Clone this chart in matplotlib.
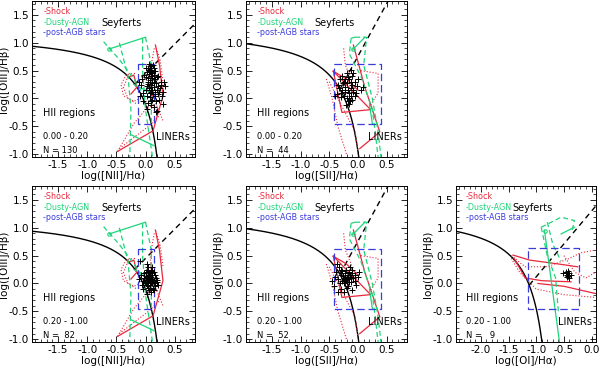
import numpy as np
import matplotlib
matplotlib.use('Agg')
import matplotlib.pyplot as plt
from matplotlib.ticker import MultipleLocator, FormatStrFormatter

plt.rcParams['axes.unicode_minus'] = False

# цвета моделей
RED = '#e8283c'
GREEN = '#1ed47a'
BLUE = '#3c3cdc'

# подписи панелей
bins = ['0.00 - 0.20', '0.20 - 1.00']
counts_nii = [130, 82]
counts_sii = [44, 52]
count_oi = 9

# точки (log отношений линий) для каждой панели
nii_low = [(0.05, 0.55), (0.08, 0.58), (0.10, 0.52), (0.03, 0.48), (0.12, 0.47), (0.06, 0.44),
           (0.09, 0.40), (0.14, 0.42), (0.01, 0.38), (0.11, 0.36), (0.07, 0.33), (0.16, 0.35),
           (0.04, 0.30), (0.12, 0.28), (0.09, 0.25), (0.18, 0.27), (0.02, 0.22), (0.14, 0.20),
           (0.06, 0.18), (0.20, 0.15), (0.10, 0.12), (0.25, 0.18), (0.30, 0.12), (0.34, 0.22),
           (0.28, 0.05), (0.22, 0.08), (0.16, 0.05), (0.08, 0.03), (0.12, -0.02), (0.18, -0.05),
           (0.05, -0.08), (0.10, -0.12), (0.15, -0.15), (0.20, -0.22), (0.02, -0.18), (-0.05, 0.10),
           (-0.08, 0.25), (-0.10, 0.05), (-0.02, 0.42), (0.00, 0.55), (0.13, 0.60), (0.17, 0.50),
           (0.22, 0.40), (0.26, 0.30), (0.21, 0.22), (0.07, 0.10), (0.13, 0.08), (-0.04, -0.05),
           (0.24, -0.02), (0.30, -0.10), (0.11, 0.45), (0.08, 0.50), (0.04, 0.36), (0.15, 0.30),
           (0.10, 0.20), (0.05, 0.26), (0.19, 0.38), (0.12, 0.15), (0.00, 0.15), (0.27, 0.25),
           (-0.12, 0.30), (0.06, 0.62), (0.16, 0.12), (0.09, -0.05), (0.23, 0.12), (0.03, 0.05),
           (0.14, 0.55), (-0.06, 0.35), (0.32, 0.30), (0.18, -0.25)]
sii_low = [(-0.40, 0.05), (-0.35, 0.25), (-0.32, 0.35), (-0.28, 0.40), (-0.25, 0.30), (-0.22, 0.20),
           (-0.20, 0.45), (-0.18, 0.15), (-0.15, 0.35), (-0.12, 0.52), (-0.10, 0.25), (-0.08, 0.45),
           (-0.05, 0.30), (-0.03, 0.10), (0.00, 0.35), (0.05, 0.15), (0.08, 0.20), (-0.30, 0.10),
           (-0.27, 0.15), (-0.24, 0.05), (-0.20, 0.00), (-0.18, -0.05), (-0.15, -0.10), (-0.12, 0.05),
           (-0.10, -0.02), (-0.22, 0.12), (-0.16, 0.10), (-0.13, 0.18), (-0.08, 0.12), (-0.26, 0.28),
           (-0.33, 0.18), (-0.19, 0.28), (-0.06, 0.05), (-0.14, -0.05), (-0.21, -0.12), (-0.11, 0.40),
           (-0.29, 0.02), (-0.17, 0.38), (-0.02, 0.22), (-0.36, 0.08), (-0.23, 0.35), (-0.09, 0.16),
           (-0.16, 0.00), (-0.13, 0.30)]
nii_high = [(-0.10, 0.40), (0.05, 0.30), (0.10, 0.25), (0.00, 0.20), (0.08, 0.18), (0.12, 0.15),
            (0.03, 0.12), (0.06, 0.10), (0.09, 0.08), (0.01, 0.06), (0.04, 0.04), (0.07, 0.02),
            (0.11, 0.00), (0.02, -0.02), (0.05, -0.05), (0.08, -0.08), (0.13, -0.10), (-0.02, 0.10),
            (-0.05, 0.05), (0.15, 0.05), (0.18, 0.10), (0.20, 0.02), (0.14, 0.20), (0.16, -0.05),
            (0.10, -0.15), (0.03, -0.18), (-0.04, -0.10), (0.00, 0.00), (0.06, 0.15), (0.09, 0.22),
            (0.12, 0.30), (-0.08, 0.15), (0.02, 0.25), (0.07, 0.06), (0.10, 0.12), (0.04, 0.08),
            (0.13, 0.04), (0.05, 0.00), (0.08, -0.02), (0.01, 0.14), (-0.01, 0.03), (0.11, 0.18),
            (0.06, -0.12), (0.17, 0.15), (0.22, -0.03), (0.03, 0.35), (-0.06, -0.02), (0.09, 0.03),
            (0.07, 0.11), (0.12, 0.08), (0.15, -0.12), (0.02, 0.07), (-0.03, 0.18), (0.10, 0.05),
            (0.05, 0.20), (0.08, 0.13), (0.14, 0.00), (0.04, -0.08), (0.19, 0.06), (-0.12, 0.08)]
sii_high = [(-0.45, 0.05), (-0.42, -0.05), (-0.40, 0.12), (-0.38, 0.20), (-0.35, 0.08), (-0.33, 0.30),
            (-0.30, 0.15), (-0.28, 0.05), (-0.27, 0.22), (-0.25, 0.10), (-0.24, 0.00), (-0.23, 0.18),
            (-0.22, 0.08), (-0.21, 0.25), (-0.20, 0.12), (-0.19, 0.03), (-0.18, 0.15), (-0.17, -0.05),
            (-0.16, 0.20), (-0.15, 0.08), (-0.14, 0.30), (-0.13, 0.12), (-0.12, 0.02), (-0.11, 0.18),
            (-0.10, 0.25), (-0.08, 0.10), (-0.06, 0.15), (-0.05, 0.05), (-0.03, -0.02), (0.00, 0.12),
            (0.02, 0.20), (-0.30, -0.10), (-0.25, -0.15), (-0.20, -0.08), (-0.32, 0.00), (-0.26, 0.14),
            (-0.22, 0.04), (-0.18, 0.09), (-0.14, 0.16), (-0.29, 0.25), (-0.36, 0.35), (-0.10, -0.12),
            (-0.35, -0.15), (-0.24, 0.06), (-0.16, 0.02)]
oi_high = [(-0.52, 0.18), (-0.47, 0.20), (-0.45, 0.15), (-0.43, 0.22), (-0.42, 0.14),
           (-0.40, 0.18), (-0.44, 0.12), (-0.38, 0.16), (-0.41, 0.10)]

# сетки моделей: ударные волны (красные), пыльные AGN (зелёные)
nii_shock_solid = [[(-0.48, -0.95), (0.13, -0.58), (0.30, 0.05), (0.24, 0.60), (0.17, 0.96)],
                   [(-0.30, 0.38), (-0.20, 0.42), (-0.15, 0.20), (-0.25, 0.08)]]
nii_shock_dot = [[(-0.18, 0.45), (-0.33, 0.43), (-0.42, 0.25), (-0.38, 0.05), (-0.20, -0.05), (-0.10, 0.00)],
                 [(-0.30, 0.40), (-0.38, 0.20), (-0.30, 0.00), (-0.15, -0.10)],
                 [(-0.48, -0.95), (-0.20, -0.45), (0.00, -0.20), (0.15, -0.10)],
                 [(-0.45, -0.90), (0.05, -0.50), (0.25, -0.30)],
                 [(0.15, 0.90), (0.08, 0.50), (0.10, 0.10), (0.22, -0.20), (0.30, -0.40)],
                 [(0.17, 0.95), (0.25, 0.70), (0.30, 0.30)]]
nii_agn_solid = [[(-0.62, 0.89), (0.00, 1.10)],
                 [(-0.25, -0.65), (0.15, -0.85)],
                 [(-0.20, 0.25), (0.10, 0.10)]]
nii_agn_dash = [[(-0.72, 1.02), (-0.45, 0.70), (-0.20, 0.35), (-0.05, 0.10)],
                [(-0.45, 1.00), (-0.30, 0.40), (-0.25, -0.20), (-0.27, -1.05)],
                [(-0.05, 1.08), (-0.05, 0.50), (0.00, -0.20), (0.12, -1.05)],
                [(0.00, 1.10), (0.10, 0.60), (0.10, -0.50)]]
sii_shock_solid = [[(-0.08, 0.96), (0.12, 0.20), (0.25, -0.20), (0.38, -0.60), (0.03, -0.90)],
                   [(-0.43, 0.49), (0.22, -0.20), (-0.28, -0.25), (-0.43, 0.49)],
                   [(-0.43, 0.49), (-0.20, 0.35), (0.00, 0.15)]]
sii_shock_dot = [[(-0.55, 0.35), (-0.45, 0.00), (-0.35, -0.50), (-0.20, -1.00)],
                 [(-0.50, 0.30), (-0.30, -0.10), (-0.05, -0.60), (0.00, -0.95)],
                 [(-0.25, 0.90), (-0.22, 0.60), (-0.10, 0.30)],
                 [(0.05, 0.50), (0.35, 0.45), (0.35, 0.10), (0.20, -0.15)]]
sii_agn_solid = [[(-0.09, 0.88), (0.12, 1.10)],
                 [(0.20, -0.10), (0.25, -0.45)]]
sii_agn_dash = [[(-0.12, 1.08), (-0.15, 0.80), (0.05, 0.40), (0.25, -0.20), (0.30, -0.60), (0.35, -1.05)],
                [(-0.05, 1.10), (0.15, 1.10), (0.10, 0.60), (0.25, 0.00), (0.35, -0.60), (0.40, -1.05)],
                [(-0.12, 1.08), (-0.05, 1.10)]]
oi_shock_solid = [[(-1.42, 0.51), (-1.12, 0.42), (-0.60, 0.35), (-0.25, 0.30)],
                  [(-1.40, 0.45), (-1.20, 0.10), (-0.90, 0.05), (-0.37, 0.03)],
                  [(-0.97, 0.00), (-0.50, -0.05), (0.07, -0.18)]]
oi_shock_dot = [[(-1.45, 0.45), (-1.30, 0.20), (-1.00, -0.10), (-0.50, -0.20), (0.07, -0.25)],
                [(-1.45, 0.50), (-1.20, 0.30), (-0.80, 0.30), (-0.40, 0.45), (-0.20, 0.55), (0.07, 0.60)],
                [(-0.50, 0.50), (-0.30, 0.20), (-0.10, 0.10), (0.07, 0.20)]]
oi_agn_solid = [[(-0.85, 0.95), (-0.58, -1.05)],
                [(-0.55, 0.89), (-0.31, 1.01)]]
oi_agn_dash = [[(-0.91, 1.01), (-0.55, 1.19), (-0.31, 1.13), (-0.35, 0.95)],
               [(-0.91, 1.01), (-0.80, 0.50), (-0.65, 0.10), (-0.60, -0.50)],
               [(-0.80, 1.10), (-0.70, 0.70), (-0.55, 0.40)]]

# прямоугольник post-AGB: (x0, x1, y0, y1)
nii_pagb = (-0.13, 0.15, -0.45, 0.62)
sii_pagb = (-0.42, 0.40, -0.45, 0.62)
oi_pagb = (-1.15, -0.22, -0.45, 0.64)

# разделительные линии Kewley: y = a/(x - b) + c, и LINER/Seyfert: y = k*x + m
kew_nii = (0.61, 0.47, 1.19)
kew_sii = (0.72, 0.32, 1.30)
kew_oi = (0.73, -0.59, 1.33)
lin_nii = (1.05, 0.45)
lin_sii = (1.89, 0.76)
lin_oi = (1.18, 1.30)

YLIM = (-1.05, 1.75)


def draw_panel(ax, pts, shock_s, shock_d, agn_s, agn_d, pagb, kew, lin, xlim, xlabel, binlab, n):
    a, b, c = kew
    x = np.linspace(xlim[0], b - 0.02, 800)
    y = a / (x - b) + c
    ax.plot(x[y > -1.3], y[y > -1.3], color='k', lw=1.0)
    # пересечение двух линий
    xs = np.linspace(b - 1.5, b - 0.02, 5000)
    d = lin[0] * xs + lin[1] - (a / (xs - b) + c)
    x0 = xs[np.argmin(np.abs(d))]
    xl = np.array([x0, xlim[1]])
    ax.plot(xl, lin[0] * xl + lin[1], color='k', lw=1.0, ls=(0, (4, 3)))

    for line in shock_d:
        p = np.array(line)
        ax.plot(p[:, 0], p[:, 1], color=RED, lw=0.8, ls=':')
    for line in shock_s:
        p = np.array(line)
        ax.plot(p[:, 0], p[:, 1], color=RED, lw=0.9)
    for line in agn_d:
        p = np.array(line)
        ax.plot(p[:, 0], p[:, 1], color=GREEN, lw=0.9, ls=(0, (4, 2.5)))
    for i, line in enumerate(agn_s):
        p = np.array(line)
        ax.plot(p[:, 0], p[:, 1], color=GREEN, lw=0.9)
        if i == 0:
            ax.plot(p[0, 0], p[0, 1], 'o', ms=2.5, mfc='none', mec=GREEN, mew=0.8)

    x0r, x1r, y0r, y1r = pagb
    ax.plot([x0r, x1r, x1r, x0r, x0r], [y1r, y1r, y0r, y0r, y1r], color=BLUE, lw=0.9,
            ls=(0, (6, 3)))

    p = np.array(pts)
    ax.plot(p[:, 0], p[:, 1], '+', color='k', ms=5, mew=0.7)

    ax.set_xlim(*xlim)
    ax.set_ylim(*YLIM)
    ax.xaxis.set_major_locator(MultipleLocator(0.5))
    ax.xaxis.set_minor_locator(MultipleLocator(0.1))
    ax.yaxis.set_major_locator(MultipleLocator(0.5))
    ax.yaxis.set_minor_locator(MultipleLocator(0.1))
    ax.xaxis.set_major_formatter(FormatStrFormatter('%.1f'))
    ax.yaxis.set_major_formatter(FormatStrFormatter('%.1f'))
    ax.tick_params(which='both', direction='in', top=True, right=True, labelsize=7.5, pad=2)
    ax.tick_params(which='major', length=4, width=0.6)
    ax.tick_params(which='minor', length=2, width=0.5)
    for s in ax.spines.values():
        s.set_linewidth(0.7)
    ax.set_xlabel(xlabel, fontsize=7.5, labelpad=1)
    ax.set_ylabel('log([OIII]/Hβ)', fontsize=7.5, labelpad=0)

    # подписи областей
    ax.text(0.55, 0.86, 'Seyferts', transform=ax.transAxes, fontsize=7, ha='center', va='center')
    ax.text(0.07, 0.28, 'HII regions', transform=ax.transAxes, fontsize=7, ha='left', va='center')
    ax.text(0.97, 0.13, 'LINERs', transform=ax.transAxes, fontsize=7, ha='right', va='center')
    ax.text(0.07, 0.13, binlab, transform=ax.transAxes, fontsize=6, ha='left', va='center')
    ax.text(0.07, 0.04, 'N = %3d' % n, transform=ax.transAxes, fontsize=6, ha='left', va='center')

    # легенда моделей
    ax.text(0.07, 0.93, '-Shock', transform=ax.transAxes, fontsize=5.8, color=RED, va='center')
    ax.text(0.07, 0.865, '-Dusty-AGN', transform=ax.transAxes, fontsize=5.8, color=GREEN, va='center')
    ax.text(0.07, 0.80, '-post-AGB stars', transform=ax.transAxes, fontsize=5.8, color=BLUE, va='center')


fig = plt.figure(figsize=(6.0, 3.68), dpi=100)

rows_bottom = [0.5734, 0.0707]
h = 0.4239
ax1 = fig.add_axes([0.0533, rows_bottom[0], 0.2717, h])
ax2 = fig.add_axes([0.41, rows_bottom[0], 0.268, h])
ax4 = fig.add_axes([0.0533, rows_bottom[1], 0.2717, h])
ax5 = fig.add_axes([0.41, rows_bottom[1], 0.268, h])
ax6 = fig.add_axes([0.76, rows_bottom[1], 0.2333, h])

nii_lab = 'log([NII]/Hα)'
sii_lab = 'log([SII]/Hα)'
oi_lab = 'log([OI]/Hα)'
xl_nii = (-1.95, 0.85)
xl_sii = (-1.95, 0.85)
xl_oi = (-2.45, 0.08)

draw_panel(ax1, nii_low, nii_shock_solid, nii_shock_dot, nii_agn_solid, nii_agn_dash, nii_pagb,
           kew_nii, lin_nii, xl_nii, nii_lab, bins[0], counts_nii[0])
draw_panel(ax2, sii_low, sii_shock_solid, sii_shock_dot, sii_agn_solid, sii_agn_dash, sii_pagb,
           kew_sii, lin_sii, xl_sii, sii_lab, bins[0], counts_sii[0])
draw_panel(ax4, nii_high, nii_shock_solid, nii_shock_dot, nii_agn_solid, nii_agn_dash, nii_pagb,
           kew_nii, lin_nii, xl_nii, nii_lab, bins[1], counts_nii[1])
draw_panel(ax5, sii_high, sii_shock_solid, sii_shock_dot, sii_agn_solid, sii_agn_dash, sii_pagb,
           kew_sii, lin_sii, xl_sii, sii_lab, bins[1], counts_sii[1])
draw_panel(ax6, oi_high, oi_shock_solid, oi_shock_dot, oi_agn_solid, oi_agn_dash, oi_pagb,
           kew_oi, lin_oi, xl_oi, oi_lab, bins[1], count_oi)

fig.savefig('out.png', dpi=100)
